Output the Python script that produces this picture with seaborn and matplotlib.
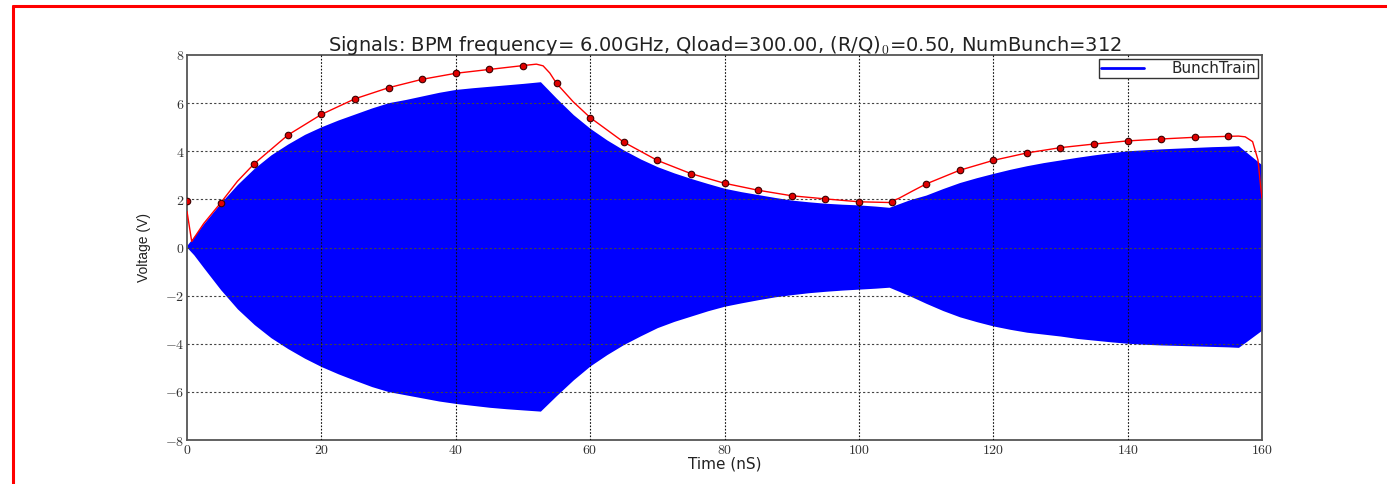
import numpy as np
import pandas as pd
import matplotlib
matplotlib.use("Agg")
import matplotlib.pyplot as plt
from matplotlib.lines import Line2D
import seaborn as sns

# ---- data ----
# blue bunch-train signal envelope (upper / lower extent of the oscillation)
env_t = [0, 1,
         2.5, 5, 7.5, 10, 12.5, 15, 17.5, 20, 22.5, 25, 27.5, 30, 32.5, 35, 37.5, 40, 42.5, 45, 47.5, 50,
         52.6,
         55, 57.5, 60, 62.5, 65, 67.5, 70, 72.5, 75, 77.5, 80, 82.5, 85, 87.5, 90, 92.5, 95, 97.5, 100, 102.5,
         104.5,
         107.5, 110, 112.5, 115, 117.5, 120, 122.5, 125, 127.5, 130, 132.5, 135, 137.5, 140, 142.5, 145,
         147.5, 150, 152.5, 155,
         156.5, 160]
env_upper = [0.1, 0.45,
             1.0, 1.85, 2.62, 3.29, 3.85, 4.3, 4.7, 5.02, 5.3, 5.55, 5.8, 6.02, 6.15, 6.3, 6.45, 6.57,
             6.64, 6.7, 6.76, 6.82,
             6.89,
             6.2, 5.52, 4.95, 4.47, 4.05, 3.68, 3.36, 3.1, 2.87, 2.66, 2.46, 2.32, 2.2, 2.08, 1.97, 1.9,
             1.84, 1.8, 1.77, 1.72,
             1.67,
             1.98, 2.18, 2.45, 2.7, 2.9, 3.08, 3.25, 3.4, 3.53, 3.64, 3.75, 3.85, 3.94, 4.02, 4.06, 4.1,
             4.13, 4.16, 4.19, 4.21,
             4.23, 3.43]
env_lower = [0.0, -0.3,
             -0.85, -1.75, -2.55, -3.2, -3.75, -4.2, -4.6, -4.95, -5.25, -5.52, -5.78, -5.99, -6.12,
             -6.25, -6.38, -6.48, -6.56, -6.64, -6.7, -6.75,
             -6.8,
             -6.15, -5.5, -4.92, -4.45, -4.03, -3.67, -3.33, -3.07, -2.85, -2.63, -2.44, -2.3, -2.17,
             -2.05, -1.96, -1.88, -1.82, -1.77, -1.73, -1.69,
             -1.65,
             -2.0, -2.32, -2.62, -2.88, -3.08, -3.26, -3.4, -3.52, -3.6, -3.68, -3.78, -3.85, -3.92,
             -3.98, -4.02, -4.05, -4.07, -4.09, -4.11, -4.13,
             -4.15, -3.43]

# red analytic envelope curve
curve_t = [0, 0.7, 2.5, 5, 7.5, 10, 15, 20, 25, 30, 35, 40, 45, 50, 52, 53, 54, 55, 57.5, 60, 65,
           70, 75, 80, 85, 90, 95, 100, 104.5, 106, 108, 110, 115, 120, 125, 130, 135, 140, 145,
           150, 155, 156.5, 157.5, 158.6, 159.4, 159.8, 160]
curve_v = [1.5, 0.25, 1.0, 1.85, 2.75, 3.48, 4.67, 5.53, 6.18, 6.64, 6.99, 7.24, 7.40, 7.56, 7.62,
           7.55, 7.25, 6.82, 6.05, 5.40, 4.38, 3.62, 3.07, 2.67, 2.38, 2.15, 2.02, 1.90, 1.87,
           2.05, 2.35, 2.64, 3.21, 3.62, 3.93, 4.15, 4.30, 4.43, 4.51, 4.58, 4.62, 4.63, 4.6,
           4.4, 3.64, 2.53, 2.05]

# red sample markers (every 5 ns)
mark_t = [0, 5, 10, 15, 20, 25, 30, 35, 40, 45, 50, 55, 60, 65, 70, 75, 80, 85, 90, 95, 100,
          105, 110, 115, 120, 125, 130, 135, 140, 145, 150, 155]
mark_v = [1.95, 1.85, 3.48, 4.67, 5.53, 6.18, 6.64, 6.99, 7.24, 7.40, 7.56, 6.82, 5.40, 4.38,
          3.62, 3.07, 2.67, 2.38, 2.15, 2.02, 1.90, 1.88, 2.64, 3.21, 3.62, 3.93, 4.15, 4.30,
          4.43, 4.51, 4.58, 4.62]

xticks = [0, 20, 40, 60, 80, 100, 120, 140, 160]
yticks = [-8, -6, -4, -2, 0, 2, 4, 6, 8]
title = r"Signals: BPM frequency= 6.00GHz, Qload=300.00, (R/Q)$_0$=0.50, NumBunch=312"
xlabel = "Time (nS)"
ylabel = "Voltage (V)"
legend_label = "BunchTrain"

# ---- plotting ----
sns.set_style("white")
plt.rcParams["font.family"] = ["DejaVu Sans"]
plt.rcParams["mathtext.fontset"] = "cm"

W, H = 1387, 484
fig = plt.figure(figsize=(W / 100, H / 100), dpi=100)
ax = fig.add_axes([187 / W, 1 - 440 / H, (1262 - 187) / W, (440 - 55) / H])

env_df = pd.DataFrame({"t": env_t, "up": env_upper, "lo": env_lower})
ax.fill_between(env_df["t"], env_df["lo"], env_df["up"], color="#0000ff", lw=0, zorder=2)

sns.lineplot(x=curve_t, y=curve_v, color="red", lw=1.0, ax=ax, zorder=4, sort=False)
sns.scatterplot(x=mark_t, y=mark_v, color="#e00000", edgecolor="#3a0000", linewidth=0.8,
                s=22, ax=ax, zorder=5)

ax.set_xlim(0, 160)
ax.set_ylim(-8, 8)
ax.set_xticks(xticks)
ax.set_yticks(yticks)
ax.set_xticklabels([f"${v}$" for v in xticks])
ax.set_yticklabels([f"${v}$" for v in yticks])
ax.tick_params(axis="both", direction="in", length=4, width=0.8, labelsize=10,
               colors="#333333", pad=2)

for v in xticks[1:-1]:
    ax.axvline(v, color="#111111", lw=0.8, ls=(0, (1.5, 1.5)), zorder=3)
for v in yticks[1:-1]:
    ax.axhline(v, color="#444444", lw=0.8, ls=(0, (2, 2)), zorder=3)

for s in ax.spines.values():
    s.set_color("#555555")
    s.set_linewidth(1.3)
    s.set_visible(True)

ax.set_title(title, fontsize=14, color="#222222", pad=3, family=["DejaVu Sans"])
ax.set_xlabel(xlabel, fontsize=11, color="#222222", labelpad=0, family=["DejaVu Sans"])
ax.set_ylabel(ylabel, fontsize=10, color="#222222", labelpad=10,
              family=["Liberation Sans Narrow", "Liberation Sans"])

leg = ax.legend(handles=[Line2D([0], [0], color="#0000ff", lw=2)], labels=[legend_label],
                loc="upper right", prop={"family": "DejaVu Sans", "size": 11}, frameon=True,
                fancybox=False, edgecolor="#333333", framealpha=1, handlelength=2.8,
                handletextpad=1.8, borderaxespad=0.25, borderpad=0.15)
leg.get_frame().set_linewidth(1.0)
leg.set_zorder(10)

# red frame at top and left of the image
fig.add_artist(Line2D([13 / W, 13 / W], [0, 1 - 6 / H], color="red", lw=2.2,
                      transform=fig.transFigure))
fig.add_artist(Line2D([13 / W, 1], [1 - 6 / H, 1 - 6 / H], color="red", lw=2.2,
                      transform=fig.transFigure))

fig.savefig("out.png", dpi=100)
